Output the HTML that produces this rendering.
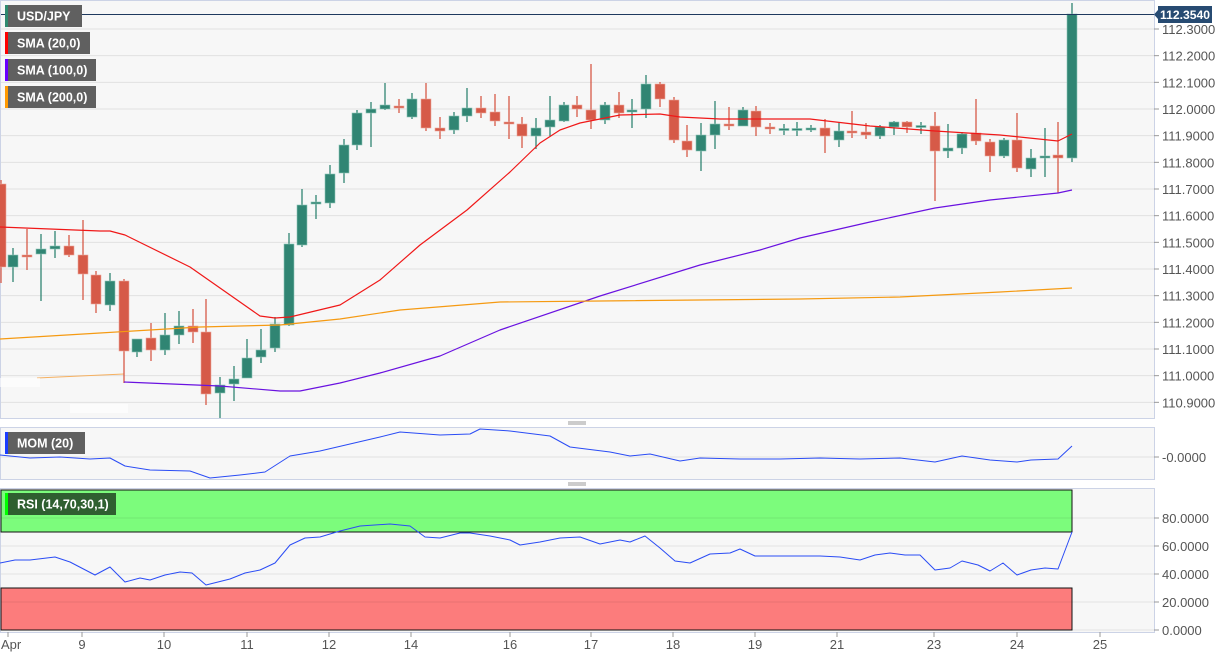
<!DOCTYPE html>
<html><head><meta charset="utf-8">
<style>
html,body{margin:0;padding:0;background:#fff;}
svg{display:block;font-family:"Liberation Sans",sans-serif;}
</style></head><body>
<svg id="s" width="1225" height="657" xmlns="http://www.w3.org/2000/svg"></svg>
<script>
const s=document.getElementById('s');
let h='';
h+='<rect x="0.5" y="0.5" width="1154" height="418" fill="#f7f7f7" stroke="#ccd3e6"/>';
h+='<rect x="0.5" y="427.5" width="1154" height="52" fill="#f7f7f7" stroke="#ccd3e6"/>';
h+='<rect x="0.5" y="488.5" width="1154" height="144" fill="#f7f7f7" stroke="#ccd3e6"/>';
const py=p=>29+(112.3-p)*266.67;
for(let i=0;i<=14;i++){const p=110.9+i*0.1;const y=py(p);if(y<2||y>417)continue;
 h+=`<line x1="1" x2="1154" y1="${y}" y2="${y}" stroke="#e2e2e2"/>`;
 h+=`<line x1="1154" x2="1159" y1="${y}" y2="${y}" stroke="#999"/>`;
 h+=`<text x="1162" y="${y+5}" font-size="13" fill="#555">${p.toFixed(4)}</text>`;}
h+='<line x1="1" x2="1154" y1="457" y2="457" stroke="#e2e2e2"/><line x1="1154" x2="1159" y1="457" y2="457" stroke="#999"/><text x="1162" y="462" font-size="13" fill="#555">-0.0000</text>';
const ry=v=>630-1.4*v;
h+=`<rect x="1" y="${ry(100)}" width="1071" height="42" fill="#7cfc7c" stroke="#111" stroke-width="1"/>`;
h+=`<rect x="1" y="${ry(30)}" width="1071" height="42" fill="#fc7c7c" stroke="#111" stroke-width="1"/>`;
for(let v=0;v<=80;v+=20){const y=ry(v);
 h+=`<line x1="1" x2="1154" y1="${y}" y2="${y}" stroke="rgba(0,0,0,0.08)"/>`;
 h+=`<line x1="1154" x2="1159" y1="${y}" y2="${y}" stroke="#999"/>`;
 h+=`<text x="1162" y="${y+5}" font-size="13" fill="#555">${v.toFixed(4)}</text>`;}
[['Apr',8],['9',82],['10',164],['11',247],['12',329],['14',411],['16',510],['17',591],['18',673],['19',755],['21',837],['23',934],['24',1017],['25',1100]].forEach(([t,x])=>{
 h+=`<line x1="${x}" x2="${x}" y1="632" y2="637" stroke="#999"/>`;
 h+=`<text x="${t=='Apr'?1:x}" y="649" font-size="13" fill="#555" text-anchor="${t=='Apr'?'start':'middle'}">${t}</text>`;});
h+='<line x1="568" x2="586" y1="422" y2="422" stroke="#999"/><line x1="568" x2="586" y1="424" y2="424" stroke="#999"/>';
h+='<line x1="568" x2="586" y1="483" y2="483" stroke="#999"/><line x1="568" x2="586" y1="485" y2="485" stroke="#999"/>';
h+='<polyline points="37,378 80,376 124,374" fill="none" stroke="#f5b060" stroke-width="1"/>';
h+='<rect x="0" y="378" width="40" height="9" fill="#fff" opacity="0.6"/><rect x="70" y="404" width="58" height="9" fill="#fff" opacity="0.6"/>';
const C=[[1,184,267,180,283],[13,267,255,248,282],[27,255,255,229,270],[41,254,249,234,301],[55,249,246,231,258],[69,246,255,235,257],[83,255,274,220,300],[96,275,304,271,313],[110,305,281,273,311],[124,281,351,279,383],[137,352,339,339,357],[151,338,350,323,361],[165,350,335,313,355],[179,335,326,311,344],[193,326,332,309,343],[206,332,394,299,405],[220,393,385,377,418],[234,384,379,366,401],[247,378,358,339,378],[261,357,350,329,363],[275,348,324,317,352],[289,325,244,233,326],[302,245,205,189,247],[316,204,202,195,219],[330,203,174,165,208],[344,173,145,139,183],[357,145,113,110,150],[371,113,109,102,147],[385,109,105,83,110],[399,106,108,99,113],[412,117,99,93,119],[426,99,128,83,131],[440,128,131,117,139],[454,130,116,112,134],[467,116,108,88,122],[481,108,113,96,118],[495,112,121,94,126],[509,122,124,96,139],[522,124,136,117,148],[536,136,128,118,149],[550,127,120,96,136],[564,121,105,102,122],[577,105,109,96,117],[591,110,120,64,129],[605,120,105,102,124],[619,105,113,92,118],[632,112,110,99,128],[646,109,84,75,118],[660,84,99,82,107],[674,100,140,97,143],[687,141,150,125,157],[701,151,135,123,171],[715,135,124,101,149],[729,124,126,107,130],[743,126,110,107,126],[756,111,127,106,136],[770,127,129,123,134],[784,129.5,128.5,124,135],[797,129.5,128.5,122,136],[811,128,128,125,132],[825,128,136,119,153],[839,140,131,122,147],[852,131,132,111,138],[866,132,135,123,139],[880,136,127,125,139],[894,127,122,121,135],[907,122,127,121,133],[921,126.5,125.5,122,134],[935,126,151,112,201],[948,151,148,124,158],[962,148,134,132,154],[976,133,141,99,145],[990,142,156,139,172],[1004,156,140,138,158],[1017,140,168,113,172],[1031,169,158,149,177],[1045,158,156,128,177],[1058,155,158,122,193],[1072,158,14,3,162]];
C.forEach(([x,o,c,hi,lo],i)=>{const up=c<o||(c==o&&i%2);const col=up?'#308573':'#d65a48';
 const t=Math.min(o,c),b=Math.max(o,c);
 h+=`<line x1="${x}" x2="${x}" y1="${hi}" y2="${lo}" stroke="${col}" stroke-width="1.3"/>`;
 h+=`<rect x="${x-5}" y="${t}" width="10" height="${Math.max(b-t,2)}" fill="${col}" stroke="${up?'#8cc4b6':'#eba79c'}" stroke-width="0.6"/>`;});
const pl=(pts,col,w)=>{h+=`<polyline points="${pts}" fill="none" stroke="${col}" stroke-width="${w||1.2}" stroke-linejoin="round"/>`;};
pl('0,227 100,231 110,231 125,235 190,267 260,316 275,318 290,317 340,305 380,280 420,245 467,210 510,172 540,143 560,130 580,123 620,115 660,114 680,117 720,119 810,119 870,126 935,131 1000,135 1058,141 1072,134','#f01818');
pl('124,382 220,386 280,391 300,391 340,383 380,373 440,356 500,330 600,296 700,265 760,250 800,238 870,222 935,208 990,200 1058,193 1072,190','#6a12e0');
pl('0,339 100,333 200,327 280,325 340,319 400,310 500,302 600,301 800,299 900,297 1000,292 1072,288','#f59a12');
h+='<line x1="1" x2="1154" y1="14.5" y2="14.5" stroke="#1f3a5f" stroke-width="1"/>';
h+='<path d="M1154,14.5 L1158,10 L1158,6 L1212,6 L1212,23 L1158,23 L1158,19 Z" fill="#274b72"/>';
h+='<text x="1160" y="19" font-size="12" font-weight="bold" fill="#fff" textLength="50" lengthAdjust="spacingAndGlyphs">112.3540</text>';
pl('0,455 30,458 60,457 90,459 110,458 125,466 150,470 190,471 210,478 240,475 265,472 290,456 320,451 350,444 380,437 400,432 440,435 470,434 480,429 510,431 550,436 570,447 610,452 630,456 650,454 680,461 700,458 740,459 780,459 820,458 860,459 900,458 935,462 962,456 990,460 1017,462 1031,460 1058,459 1072,446','#2a4cf5',1);
pl('0,563 15,560 30,560 55,557 70,562 95,575 110,567 125,582 140,578 150,580 165,575 180,572 192,573 206,585 230,579 245,573 260,570 275,563 290,545 305,538 320,537 340,531 360,526 390,524 410,526 425,537 440,538 460,533 470,533 490,536 510,540 520,545 540,542 560,538 580,537 600,544 620,540 630,542 645,536 660,548 675,561 690,563 710,554 730,553 740,549 755,556 780,556 820,556 840,557 860,560 875,555 890,553 905,555 920,555 935,570 950,568 962,561 978,565 990,571 1003,563 1017,575 1031,570 1045,568 1058,569 1072,532','#2a4cf5',1);
const lg=(x,y,w,t,bar,bg)=>{h+=`<rect x="${x}" y="${y}" width="${w}" height="22" fill="${bg||'#606060'}"/><rect x="${x}" y="${y}" width="3" height="22" fill="${bar}"/><text x="${x+12}" y="${y+15.5}" font-size="12.5" font-weight="bold" fill="#fff">${t}</text>`;};
lg(5,5,77,'USD/JPY','#2f8a6f');
lg(5,32,85,'SMA (20,0)','#ff0000');
lg(5,59,91,'SMA (100,0)','#6a00ff');
lg(5,86,91,'SMA (200,0)','#ff9900');
lg(5,432,80,'MOM (20)','#1a3cff');
lg(5,493,111,'RSI (14,70,30,1)','#00ff00','#2f5f30');
s.innerHTML=h;
</script>
</body></html>
